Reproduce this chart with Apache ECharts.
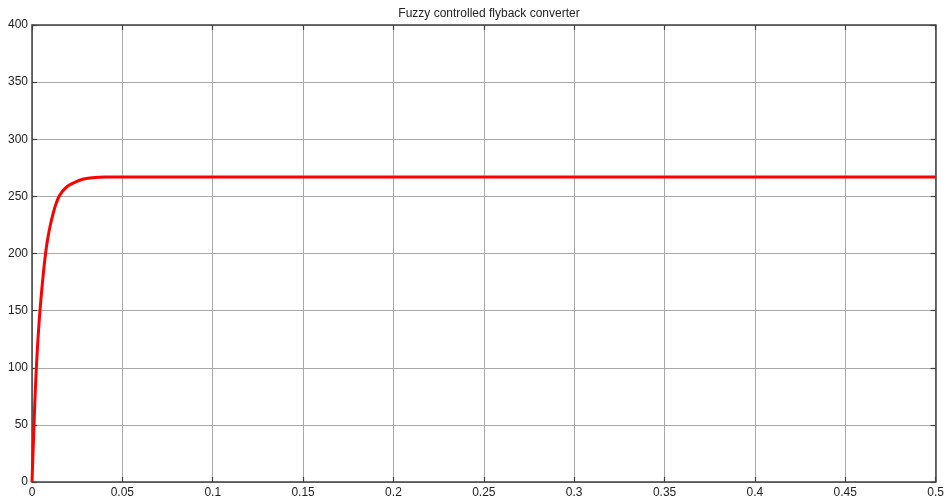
<!DOCTYPE html>
<html>
<head>
<meta charset="utf-8">
<script src="https://cdn.jsdelivr.net/npm/echarts@6/dist/echarts.min.js"></script>
<style>html,body{margin:0;padding:0;background:#fff;}#c{width:947px;height:503px;}</style>
</head>
<body>
<div id="c"></div>
<script>
var titleText = 'Fuzzy controlled flyback converter';
var timeValues = [0, 0.0004, 0.0008, 0.0011, 0.0017, 0.0024, 0.0033, 0.0044, 0.0058, 0.0075, 0.0088, 0.0103, 0.0122, 0.0135, 0.0148, 0.0166, 0.0186, 0.0205, 0.0227, 0.0260, 0.0300, 0.0350, 0.0400, 0.0480, 0.1000, 0.2000, 0.3000, 0.4000, 0.5000];
var voltageValues = [0, 18, 36, 50, 75, 100, 125, 150, 175, 200, 214, 226, 238, 244.5, 249.5, 254, 257.5, 259.8, 261.6, 263.9, 265.6, 266.5, 266.9, 267, 267, 267, 267, 267, 267];
var xTicks = { min: 0, max: 0.5, interval: 0.05 };
var yTicks = { min: 0, max: 400, interval: 50 };

var data = timeValues.map(function (t, i) { return [t, voltageValues[i]]; });
var chart = echarts.init(document.getElementById('c'), null, { renderer: 'canvas' });
var font = 'Liberation Sans, Arial, sans-serif';
var axisLineStyle = { color: '#404040', width: 1.5 };
chart.setOption({
  animation: false,
  backgroundColor: '#ffffff',
  title: { text: titleText, left: 484, top: 3, textAlign: 'center',
    textStyle: { fontFamily: font, fontSize: 12, fontWeight: 'normal', color: '#222' } },
  grid: { left: 32, right: 11, top: 25, bottom: 21, containLabel: false },
  xAxis: [{
    type: 'value', min: xTicks.min, max: xTicks.max, interval: xTicks.interval,
    axisLine: { show: true, onZero: false, lineStyle: axisLineStyle },
    axisTick: { show: true, inside: true, length: 5, lineStyle: { color: '#404040', width: 1.2 } },
    axisLabel: { color: '#222', fontFamily: font, fontSize: 12, margin: 5 },
    splitLine: { show: true, lineStyle: { color: '#a8a8a8', width: 1 } }
  }, {
    type: 'value', position: 'top', min: xTicks.min, max: xTicks.max, interval: xTicks.interval,
    axisLine: { show: true, onZero: false, lineStyle: axisLineStyle },
    axisTick: { show: true, inside: true, length: 5, lineStyle: { color: '#404040', width: 1.2 } },
    axisLabel: { show: false }, splitLine: { show: false }
  }],
  yAxis: [{
    type: 'value', min: yTicks.min, max: yTicks.max, interval: yTicks.interval,
    axisLine: { show: true, onZero: false, lineStyle: axisLineStyle },
    axisTick: { show: true, inside: true, length: 5, lineStyle: { color: '#404040', width: 1.2 } },
    axisLabel: { color: '#222', fontFamily: font, fontSize: 12, margin: 4 },
    splitLine: { show: true, lineStyle: { color: '#a8a8a8', width: 1 } }
  }, {
    type: 'value', position: 'right', min: yTicks.min, max: yTicks.max, interval: yTicks.interval,
    axisLine: { show: true, onZero: false, lineStyle: axisLineStyle },
    axisTick: { show: true, inside: true, length: 5, lineStyle: { color: '#404040', width: 1.2 } },
    axisLabel: { show: false }, splitLine: { show: false }
  }],
  series: [{
    type: 'line', data: data, showSymbol: false, smooth: 0.25,
    lineStyle: { color: '#ff0000', width: 3 }, clip: true
  }]
});
</script>
</body>
</html>
